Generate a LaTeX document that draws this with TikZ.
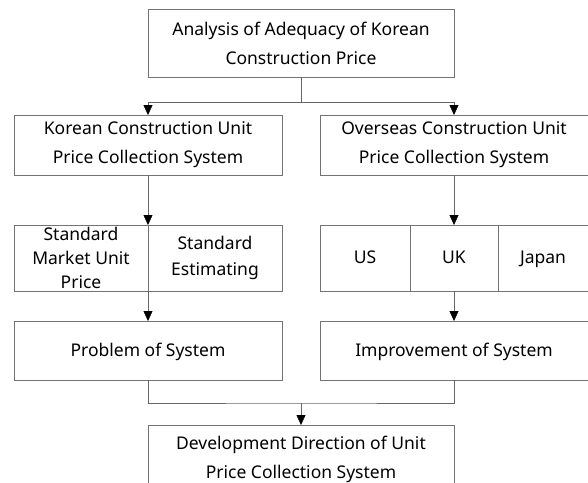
\documentclass[tikz,border=0pt]{standalone}
\usepackage{fontspec}
\setmainfont{Noto Sans}
\usetikzlibrary{arrows.meta}

\begin{document}
\begin{tikzpicture}
	[
		x=1pt, y=-1pt,
		box/.style={draw=black!55, align=center, inner sep=0pt, outer sep=0pt,
			font=\fontsize{17.5}{29}\selectfont},
		single/.style={text height=13pt, text depth=2pt},
		cell/.style={box, single, minimum height=66pt},
		link/.style={draw=black!60, thin},
		arrow/.style={link, -{Triangle[length=10pt, width=9pt, color=black]}}
	]
	
	% Fix the picture size.
	\useasboundingbox (0,0) rectangle (588,482);
	
	% Top box.
	\node[box, minimum width=306pt, minimum height=68pt] (top) at (301,43)
		{Analysis of Adequacy of Korean\\Construction Price};
	
	% First row.
	\node[box, minimum width=268pt, minimum height=60pt] (korean) at (148,145)
		{Korean Construction Unit\\Price Collection System};
	\node[box, minimum width=268pt, minimum height=60pt] (overseas) at (454,145)
		{Overseas Construction Unit\\Price Collection System};
	
	% Second row.
	\node[box, minimum width=134pt, minimum height=66pt, font=\fontsize{17.5}{24}\selectfont] (market) at (81,258)
		{Standard\\Market Unit\\Price};
	\node[box, minimum width=134pt, minimum height=66pt, font=\fontsize{17.5}{26}\selectfont] (estimate) at (215,258)
		{Standard\\Estimating};
	\node[cell, minimum width=90pt] (us) at (365,258) {US};
	\node[cell, minimum width=88pt] (uk) at (454,258) {UK};
	\node[cell, minimum width=90pt] (japan) at (543,258) {Japan};
	
	% Third row.
	\node[box, single, minimum width=268pt, minimum height=59pt] (problem) at (148,350.5)
		{Problem of System};
	\node[box, single, minimum width=268pt, minimum height=59pt] (improve) at (454,350.5)
		{Improvement of System};
	
	% Bottom box, cut by the page edge.
	\node[box, minimum width=306pt, minimum height=68pt] (develop) at (301,459)
		{Development Direction of Unit\\Price Collection System};
	
	% Connectors.
	\coordinate (fork) at (301,102);
	\coordinate (join) at (301,403);
	\draw[link] (top.south) -- (fork);
	\draw[arrow] (fork) -| (korean.north);
	\draw[arrow] (fork) -| (overseas.north);
	\draw[arrow] (korean.south) -- (market.north east);
	\draw[arrow] (overseas.south) -- (uk.north);
	\draw[arrow] (market.south east) -- (problem.north);
	\draw[arrow] (uk.south) -- (improve.north);
	\draw[link] (problem.south) |- (join) -| (improve.south);
	\draw[arrow] (join) -- (develop.north);
\end{tikzpicture}
\end{document}
